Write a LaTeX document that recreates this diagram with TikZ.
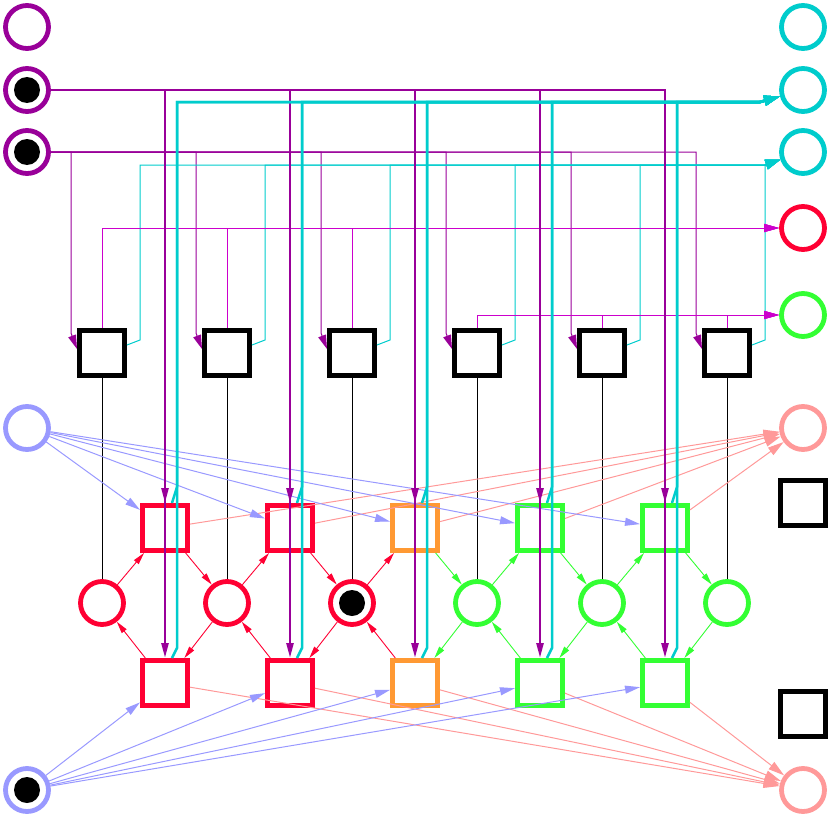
\documentclass[tikz,border=0pt]{standalone}
\usetikzlibrary{arrows.meta}
\definecolor{cPurple}{HTML}{990099}
\definecolor{cCyan}{HTML}{00CCCC}
\definecolor{cRed}{HTML}{FF0033}
\definecolor{cOrange}{HTML}{FF9933}
\definecolor{cGreen}{HTML}{33FF33}
\definecolor{cLB}{HTML}{9999FF}
\definecolor{cPink}{HTML}{FF9999}
\definecolor{cMag}{HTML}{CC00CC}
\begin{document}
\begin{tikzpicture}[x=1bp,y=-1bp,
  place/.style={circle,draw,line width=4.8bp,minimum size=43bp,inner sep=0pt},
  trans/.style={rectangle,draw,line width=5bp,minimum size=45bp,inner sep=0pt},
  latt/.style={line width=0.9bp,-{Triangle[length=12bp,width=6bp]}},
  pthick/.style={draw=cPurple,line width=2.5bp,-{Triangle[length=15bp,width=7bp]}},
  cthick/.style={draw=cCyan,line width=2.5bp,-{Triangle[length=16bp,width=10bp]}},
  pthin/.style={draw=cPurple,line width=1bp,-{Triangle[length=14bp,width=8bp]}},
  cthin/.style={draw=cCyan,line width=1bp,-{Triangle[length=15bp,width=10bp]}},
  mthin/.style={draw=cMag,line width=1bp,-{Triangle[length=15bp,width=8bp]}},
  lbarc/.style={draw=cLB,line width=1bp,-{Triangle[length=15bp,width=8bp]}},
  pkarc/.style={draw=cPink,line width=1bp,-{Triangle[length=16bp,width=9bp]}},
  readarc/.style={draw=black,line width=1bp}]
\useasboundingbox (0,0) rectangle (830,817);
% left places
\node[place,draw=cPurple] (pl1) at (27,27) {};
\node[place,draw=cPurple] (pl2) at (27,90) {};
\node[place,draw=cPurple] (pl3) at (27,152) {};
\node[place,draw=cLB] (pb1) at (27,428) {};
\node[place,draw=cLB] (pb2) at (27,790) {};
\fill (pl2.center) circle[radius=13bp];
\fill (pl3.center) circle[radius=13bp];
\fill (pb2.center) circle[radius=13bp];
% right places
\node[place,draw=cCyan] (c1) at (803,27) {};
\node[place,draw=cCyan] (c2) at (803,90) {};
\node[place,draw=cCyan] (c3) at (803,152) {};
\node[place,draw=cRed] (rp) at (803,228) {};
\node[place,draw=cGreen] (gp) at (803,315) {};
\node[place,draw=cPink] (pk1) at (803,428) {};
\node[trans,draw=black] (bs1) at (803,503) {};
\node[trans,draw=black] (bs2) at (803,714) {};
\node[place,draw=cPink] (pk2) at (803,790) {};
% black squares
\foreach \i/\x in {1/102,2/227,3/352,4/477,5/602,6/727}
  \node[trans,draw=black] (s\i) at (\x,353) {};
% middle places
\foreach \i/\x/\c in {1/102/cRed,2/227/cRed,3/352/cRed,4/477/cGreen,5/602/cGreen,6/727/cGreen}
  \node[place,draw=\c] (m\i) at (\x,603) {};
\fill (m3.center) circle[radius=13bp];
% transitions
\foreach \i/\x/\c in {1/165/cRed,2/290/cRed,3/415/cOrange,4/540/cGreen,5/665/cGreen}{
  \node[trans,draw=\c] (t\i) at (\x,528) {};
  \node[trans,draw=\c] (b\i) at (\x,683) {};
}
% lattice arcs
\foreach \a/\b/\c in {m1/t1/cRed,t1/m2/cRed,m2/t2/cRed,t2/m3/cRed,m3/t3/cRed,
  t3/m4/cGreen,m4/t4/cGreen,t4/m5/cGreen,m5/t5/cGreen,t5/m6/cGreen,
  b1/m1/cRed,m2/b1/cRed,b2/m2/cRed,m3/b2/cRed,b3/m3/cRed,
  m4/b3/cGreen,b4/m4/cGreen,m5/b4/cGreen,b5/m5/cGreen,m6/b5/cGreen}
  \draw[latt,draw=\c] (\a) -- (\b);
% read arcs
\foreach \i in {1,...,6} \draw[readarc] (s\i) -- (m\i);
% light blue and pink arcs
\foreach \i in {1,...,5}{
  \draw[lbarc] (pb1) -- (t\i);
  \draw[lbarc] (pb2) -- (b\i);
  \draw[pkarc] (t\i) -- (pk1);
  \draw[pkarc] (b\i) -- (pk2);
}
% thin purple into squares
\foreach \i/\x in {1/71,2/196,3/321,4/446,5/571,6/696}
  \draw[pthin] (pl3) -- (\x,152) -- (\x,333) -- ([yshift=4bp]s\i.west);
% thin cyan out of squares
\foreach \i/\x in {1/140,2/265,3/390,4/515,5/640}
  \draw[cthin] ([yshift=8bp]s\i.east) -- (\x,340) -- (\x,165) -- (765,165) -- (c3);
\draw[cthin] ([yshift=8bp]s6.east) -- (765,340) -- (765,165) -- (c3);
% magenta to red / green places
\foreach \i in {1,2,3} \draw[mthin] (s\i) |- (rp);
\foreach \i in {4,5,6} \draw[mthin] (s\i) |- (gp);
% thick purple
\foreach \i in {1,...,5}{
  \draw[pthick] (pl2) -| (t\i);
  \draw[pthick] (pl2) -| (b\i);
}
% thick cyan
\foreach \i in {1,...,5}{
  \draw[cthick] ([xshift=7bp]t\i.north) -- ++(5,-16) |- (760,102) -- (c2);
  \draw[cthick] ([xshift=7bp]b\i.north) -- ++(5,-10) |- (760,102) -- (c2);
}
\end{tikzpicture}
\end{document}
